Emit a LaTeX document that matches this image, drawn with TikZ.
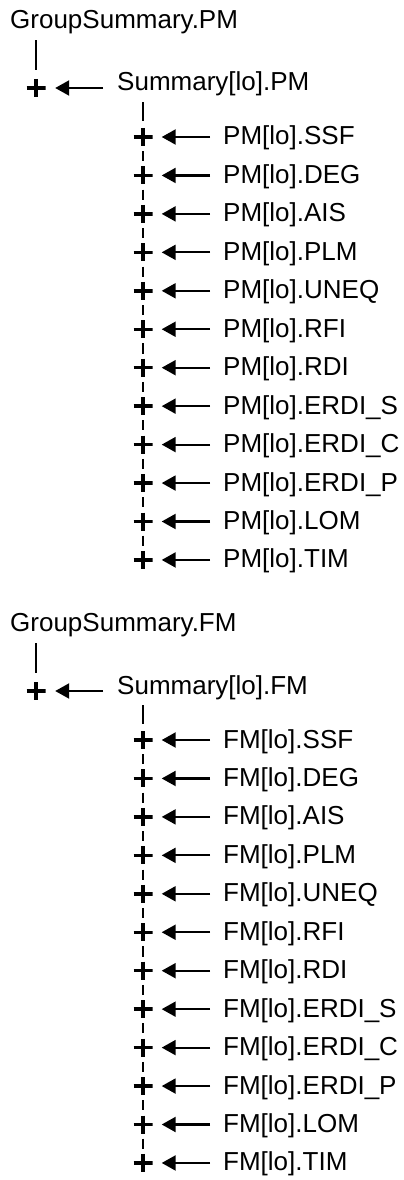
\documentclass[tikz,border=0pt]{standalone}
\usepackage{fontspec}
\setmainfont{Liberation Sans}
\usetikzlibrary{arrows.meta}

\tikzset{
    Label/.style={anchor=base west, inner sep=0pt, font=\fontsize{26}{31}\selectfont},
    Plus/.style={minimum width=19pt, minimum height=18pt, inner sep=0pt,
        path picture={\draw[line width=3.4pt]
            (path picture bounding box.west) -- (path picture bounding box.east)
            (path picture bounding box.north) -- (path picture bounding box.south);}},
    Link/.style={line width=2.2pt},
    Feed/.style={line width=2.2pt, -{Triangle[length=14pt, width=15pt]}}
}

\begin{document}
\begin{tikzpicture}[x=1pt, y=-1pt]
    \useasboundingbox (0,0) rectangle (404,1180);

    \foreach \grp/\dy in {PM/0, FM/603} {
        % group and summary
        \node[Label] (g\grp) at (10, 28.5+\dy) {GroupSummary.\grp};
        \node[Plus] (m\grp) at (36, 88+\dy) {};
        \node[Label] (s\grp) at (117, 91+\dy) {Summary[lo].\grp};

        \draw[Link, shorten <=6pt, shorten >=9pt] (g\grp.south -| m\grp) -- (m\grp.north);
        \draw[Feed, shorten <=14pt, shorten >=9.5pt] (s\grp.west |- m\grp) -- (m\grp.east);

        % defects
        \foreach \k/\sig in {0/SSF, 1/DEG, 2/AIS, 3/PLM, 4/UNEQ, 5/RFI, 6/RDI,
                             7/ERDI\_S, 8/ERDI\_C, 9/ERDI\_P, 10/LOM, 11/TIM} {
            \node[Plus] (c\grp\k) at (143, 137+38.45*\k+\dy) {};
            \node[Label] (l\grp\k) at (223, 145+38.45*\k+\dy) {\grp[lo].\sig};
            \draw[Feed, shorten <=13pt, shorten >=9pt] (l\grp\k.west |- c\grp\k) -- (c\grp\k.east);
        }

        \draw[Link, shorten <=5.5pt, shorten >=6.5pt] (s\grp.south -| c\grp0) -- (c\grp0.north);
        \foreach \k [evaluate=\k as \j using int(\k-1)] in {1,...,11}
            \draw[Link, shorten <=5pt, shorten >=5pt] (c\grp\j.south) -- (c\grp\k.north);
    }
\end{tikzpicture}
\end{document}
